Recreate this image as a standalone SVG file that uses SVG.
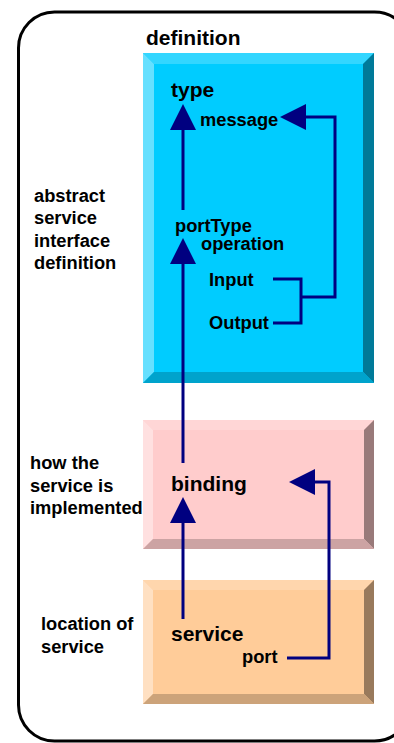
<svg xmlns="http://www.w3.org/2000/svg" width="394" height="743" viewBox="0 0 394 743">
<defs>
<style>
text{font-family:"Liberation Sans",Arial,sans-serif;font-weight:bold;fill:#000}
.big{font-size:21px}
.sm{font-size:18.3px}
.lbl{font-size:18.3px}
.con{fill:none;stroke:#000080;stroke-width:3}
</style>
<marker id="ah" markerUnits="userSpaceOnUse" markerWidth="26" markerHeight="26" refX="0" refY="13" orient="auto" viewBox="0 0 26 26">
<path d="M0,0 L26,13 L0,26 z" fill="#000080"/>
</marker>
</defs>
<rect width="394" height="743" fill="#fff"/>
<rect id="frame" x="18.5" y="12" width="392" height="729" rx="36" fill="none" stroke="#000" stroke-width="3"/>
<text class="big" x="146" y="45">definition</text>

<g id="definition-box">
<rect x="143" y="53" width="231" height="330" fill="#00CCFF"/>
<polygon points="143,53 374,53 363,64 154,64" fill="#33D6FF"/>
<polygon points="143,53 154,64 154,372 143,383" fill="#66E0FF"/>
<polygon points="374,53 374,383 363,372 363,64" fill="#007A99"/>
<polygon points="143,383 154,372 363,372 374,383" fill="#00A3CC"/>
</g>
<g id="binding-box">
<rect x="143" y="420" width="231" height="129" fill="#FFCCCC"/>
<polygon points="143,420 374,420 364,430 153,430" fill="#FFD6D6"/>
<polygon points="143,420 153,430 153,539 143,549" fill="#FFE0E0"/>
<polygon points="374,420 374,549 364,539 364,430" fill="#997A7A"/>
<polygon points="143,549 153,539 364,539 374,549" fill="#CCA3A3"/>
</g>
<g id="service-box">
<rect x="143" y="580" width="231" height="124" fill="#FFCC99"/>
<polygon points="143,580 374,580 364,590 153,590" fill="#FFD6AD"/>
<polygon points="143,580 153,590 153,694 143,704" fill="#FFE0C2"/>
<polygon points="374,580 374,704 364,694 364,590" fill="#997A5C"/>
<polygon points="143,704 153,694 364,694 374,704" fill="#CCA37A"/>
</g>

<g id="connectors">
<path class="con" d="M183,210 V130" marker-end="url(#ah)"/>
<path class="con" d="M183,463 V264" marker-end="url(#ah)"/>
<path class="con" d="M183,619 V523" marker-end="url(#ah)"/>
<path class="con" d="M273,279 H301 V323 H273 M301,297 H335 V117 H306" marker-end="url(#ah)"/>
<path class="con" d="M287,658 H329 V482 H315" marker-end="url(#ah)"/>
</g>

<g id="type"><text class="big" x="171" y="97">type</text></g>
<g id="message"><text class="sm" x="200" y="126">message</text></g>
<g id="portType"><text class="sm" x="175" y="232">portType</text></g>
<g id="operation"><text class="sm" x="201" y="250">operation</text></g>
<g id="input"><text class="sm" x="209" y="286">Input</text></g>
<g id="output"><text class="sm" x="209" y="329">Output</text></g>
<g id="binding"><text class="big" x="171" y="491">binding</text></g>
<g id="service"><text class="big" x="171" y="641">service</text></g>
<g id="port"><text class="sm" x="242" y="663">port</text></g>

<g id="labels">
<text class="lbl" x="34" y="202">abstract</text>
<text class="lbl" x="34" y="224">service</text>
<text class="lbl" x="34" y="247">interface</text>
<text class="lbl" x="34" y="269">definition</text>
<text class="lbl" x="30" y="469">how the</text>
<text class="lbl" x="30" y="492">service is</text>
<text class="lbl" x="30" y="514">implemented</text>
<text class="lbl" x="41" y="630">location of</text>
<text class="lbl" x="41" y="653">service</text>
</g>
</svg>
